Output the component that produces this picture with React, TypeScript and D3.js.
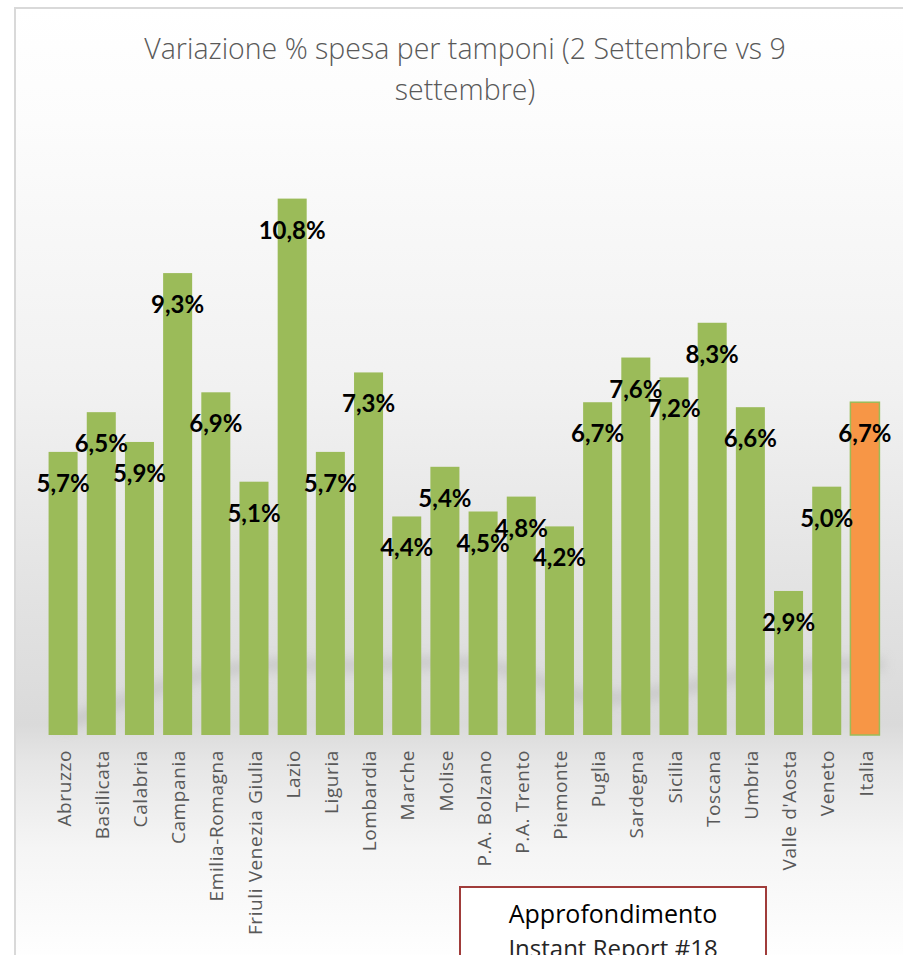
import React from "react";
import * as d3 from "d3";

const categories = [
  "Abruzzo", "Basilicata", "Calabria", "Campania", "Emilia-Romagna",
  "Friuli Venezia Giulia", "Lazio", "Liguria", "Lombardia", "Marche",
  "Molise", "P.A. Bolzano", "P.A. Trento", "Piemonte", "Puglia",
  "Sardegna", "Sicilia", "Toscana", "Umbria", "Valle d'Aosta", "Veneto", "Italia",
];
const values = [
  5.7, 6.5, 5.9, 9.3, 6.9, 5.1, 10.8, 5.7, 7.3, 4.4, 5.4, 4.5, 4.8, 4.2,
  6.7, 7.6, 7.2, 8.3, 6.6, 2.9, 5.0, 6.7,
];
const highlight = ["Italia"];
const titleLines = ["Variazione % spesa per tamponi (2 Settembre vs 9", "settembre)"];

const W = 903;
const H = 955;

export default function App() {
  const x = d3
    .scaleBand<string>()
    .domain(categories)
    .range([44, 884])
    .paddingInner(0.24)
    .paddingOuter(0.12);
  const y = d3.scaleLinear().domain([0, 12]).range([735, 139]);
  const fmt = (v: number) => d3.format(".1f")(v).replace(".", ",") + "%";

  return (
    <svg
      width={W}
      height={H}
      style={{ position: "absolute", left: 0, top: 0 }}
      xmlns="http://www.w3.org/2000/svg"
    >
      <defs>
        <linearGradient id="bg" x1="0" y1="0" x2="0" y2="1" gradientUnits="objectBoundingBox">
          <stop offset="0" stopColor="#ffffff" />
          <stop offset="0.12" stopColor="#fcfcfc" />
          <stop offset="0.4" stopColor="#f1f1f1" />
          <stop offset="0.62" stopColor="#e2e2e2" />
          <stop offset="0.75" stopColor="#dadada" />
          <stop offset="0.79" stopColor="#e6e6e6" />
          <stop offset="0.88" stopColor="#f5f5f5" />
          <stop offset="1" stopColor="#ffffff" />
        </linearGradient>
        <filter id="blur" x="-10%" y="-200%" width="120%" height="500%">
          <feGaussianBlur stdDeviation="6" />
        </filter>
      </defs>
      <rect x={15} y={8} width={W} height={H} fill="url(#bg)" stroke="#d9d9d9" strokeWidth={2} />
      <path
        d="M60,725 C120,705 200,660 300,665 C420,670 470,645 560,690 C640,720 740,655 884,665"
        fill="none"
        stroke="#b8b8b8"
        strokeWidth={12}
        opacity={0.55}
        filter="url(#blur)"
      />
      {titleLines.map((t, i) => (
        <text
          key={i}
          x={465}
          y={59 + i * 41}
          textAnchor="middle"
          fontFamily="'Open Sans', sans-serif"
          fontSize={28.5}
          fontWeight={300}
          fill="#595959"
        >
          {t}
        </text>
      ))}
      {categories.map((c, i) => {
        const isH = highlight.includes(c);
        return (
          <rect
            key={c}
            x={x(c)!}
            y={y(values[i])}
            width={x.bandwidth()}
            height={y(0) - y(values[i])}
            fill={isH ? "#f79646" : "#9bbb59"}
            stroke={isH ? "#9bbb59" : "none"}
            strokeWidth={1.5}
          />
        );
      })}
      {categories.map((c, i) => (
        <text
          key={"l" + c}
          x={x(c)! + x.bandwidth() / 2}
          y={y(values[i]) + 40}
          textAnchor="middle"
          fontFamily="Lato, sans-serif"
          fontWeight="bold"
          fontSize={24}
          fill="#000"
        >
          {fmt(values[i])}
        </text>
      ))}
      {categories.map((c) => (
        <text
          key={"t" + c}
          transform={`translate(${x(c)! + x.bandwidth() / 2 + 1},750) rotate(-90)`}
          textAnchor="end"
          dy="0.35em"
          fontFamily="'Open Sans', sans-serif"
          fontSize={19}
          letterSpacing={0.6}
          fill="#595959"
        >
          {c}
        </text>
      ))}
      <rect x={460} y={887} width={306} height={100} fill="#ffffff" stroke="#a03c3a" strokeWidth={2} />
      <text x={613} y={923} textAnchor="middle" fontFamily="'Open Sans', sans-serif" fontSize={25} fill="#000">
        Approfondimento
      </text>
      <text x={613} y={957} textAnchor="middle" fontFamily="'Open Sans', sans-serif" fontSize={24} fill="#262626">
        Instant Report #18
      </text>
    </svg>
  );
}
